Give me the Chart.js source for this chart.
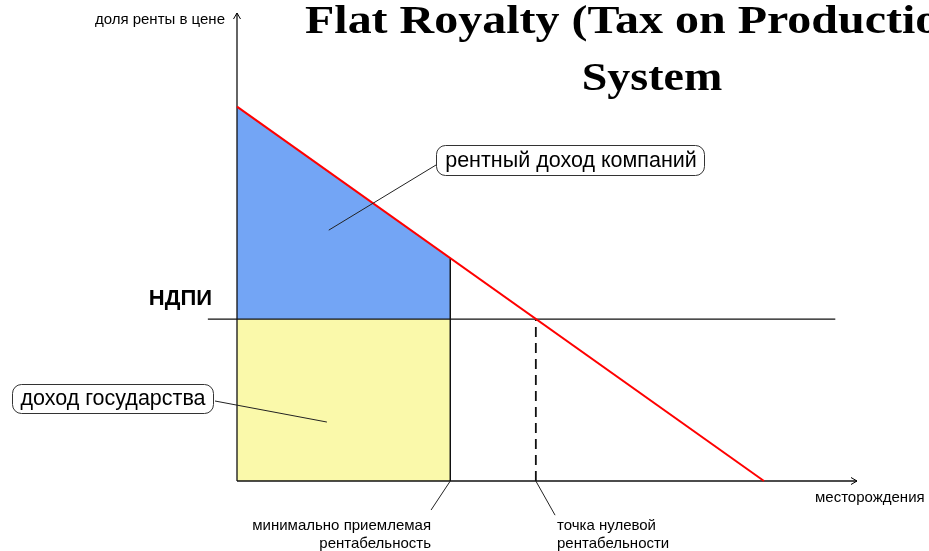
<!DOCTYPE html>
<html>
<head>
<meta charset="utf-8">
<script src="https://cdn.jsdelivr.net/npm/chart.js@4.4.1/dist/chart.umd.min.js"></script>
<style>
  html, body { margin: 0; padding: 0; background: #fff; }
  #wrap { width: 929px; height: 551px; position: relative; }
</style>
</head>
<body>
<div id="wrap"><canvas id="royaltyChart"></canvas></div>
<script>
// rent share line (price share vs. deposits)
const rentLineX = [0, 85];
const rentLineY = [80, 0];
// company rent income (blue) - top edge follows the rent line
const companyRentX = [0, 34.4];
const companyRentY = [80, 47.6];
// flat royalty level (НДПИ)
const ndpiLevel = 34.6;
const ndpiLineX = [-4.7, 96.5];
// state income (yellow)
const stateIncomeX = [0, 34.4];
// minimum acceptable profitability / zero profitability
const minProfitX = 34.4;
const minProfitTop = 47.6;
const zeroProfitX = 48.2;

const titleLines = ['Flat Royalty (Tax on Production)', 'System'];
const yAxisLabel = 'доля ренты в цене';
const xAxisLabel = 'месторождения';
const ndpiLabel = 'НДПИ';
const stateLabel = 'доход государства';
const companyLabel = 'рентный доход компаний';
const minProfitLabel = ['минимально приемлемая', 'рентабельность'];
const zeroProfitLabel = ['точка нулевой', 'рентабельности'];

const BLUE = 'rgb(115,165,245)';
const YELLOW = 'rgb(250,249,170)';
const RED = '#ff0000';
const SANS = '"Liberation Sans", Arial, sans-serif';

const pts = (xs, ys) => xs.map((x, i) => ({ x: x, y: ys[i] }));

function roundBox(c, x, y, w, h, r) {
    c.beginPath();
    c.moveTo(x + r, y);
    c.lineTo(x + w - r, y);
    c.arcTo(x + w, y, x + w, y + r, r);
    c.lineTo(x + w, y + h - r);
    c.arcTo(x + w, y + h, x + w - r, y + h, r);
    c.lineTo(x + r, y + h);
    c.arcTo(x, y + h, x, y + h - r, r);
    c.lineTo(x, y + r);
    c.arcTo(x, y, x + r, y, r);
    c.closePath();
    c.stroke();
}

function seg(c, x1, y1, x2, y2) {
    c.beginPath();
    c.moveTo(x1, y1);
    c.lineTo(x2, y2);
    c.stroke();
}

const annotations = {
    id: 'annotations',
    afterDatasetsDraw(chart) {
        const c = chart.ctx;
        const sx = chart.scales.x, sy = chart.scales.y;
        const px = v => sx.getPixelForValue(v);
        const py = v => sy.getPixelForValue(v);
        c.save();

        // axis arrows
        c.strokeStyle = '#000';
        c.lineWidth = 1;
        c.beginPath();
        c.moveTo(px(0) - 3.5, py(100) + 6);
        c.lineTo(px(0), py(100));
        c.lineTo(px(0) + 3.5, py(100) + 6);
        c.moveTo(px(100) - 6, py(0) - 3.5);
        c.lineTo(px(100), py(0));
        c.lineTo(px(100) - 6, py(0) + 3.5);
        c.stroke();

        // leader lines
        c.strokeStyle = '#222';
        c.lineWidth = 1;
        seg(c, px(minProfitX), py(0), px(31.3), py(-6.2));
        seg(c, px(zeroProfitX), py(0), px(51.3), py(-7.3));
        seg(c, 215, 401, px(14.5), py(12.6));
        seg(c, 436, 165, px(14.8), py(53.6));

        // callout boxes
        c.strokeStyle = '#333';
        roundBox(c, 12.5, 384.5, 201, 29, 9);
        roundBox(c, 436.5, 145.5, 268, 30, 9);

        c.fillStyle = '#000';
        c.textBaseline = 'middle';
        c.font = '21.5px ' + SANS;
        c.textAlign = 'center';
        c.fillText(stateLabel, 113, 399.5);
        c.fillText(companyLabel, 571, 161);

        c.font = '15px ' + SANS;
        c.textAlign = 'right';
        c.fillText(yAxisLabel, 225, 20);
        c.fillText(minProfitLabel[0], 431, 526);
        c.fillText(minProfitLabel[1], 431, 544);
        c.textAlign = 'left';
        c.fillText(xAxisLabel, 815, 498);
        c.fillText(zeroProfitLabel[0], 557, 526);
        c.fillText(zeroProfitLabel[1], 557, 544);

        c.font = 'bold 22px ' + SANS;
        c.textAlign = 'right';
        c.fillText(ndpiLabel, 212, 299);

        // title (stretched serif, runs off the right edge)
        c.font = 'bold 39px "Liberation Serif", "Times New Roman", serif';
        c.textBaseline = 'alphabetic';
        c.save();
        c.translate(305, 33);
        c.scale(1.23, 1);
        c.textAlign = 'left';
        c.fillText(titleLines[0], 0, 0);
        c.restore();
        c.save();
        c.translate(652, 90);
        c.scale(1.18, 1);
        c.textAlign = 'center';
        c.fillText(titleLines[1], 0, 0);
        c.restore();

        c.restore();
    }
};

const chart = new Chart(document.getElementById('royaltyChart'), {
    type: 'line',
    data: {
        datasets: [
            {
                label: 'state',
                data: pts(stateIncomeX, [ndpiLevel, ndpiLevel]),
                backgroundColor: YELLOW,
                borderWidth: 0,
                fill: 'origin',
                order: 10
            },
            {
                label: 'company',
                data: pts(companyRentX, companyRentY),
                backgroundColor: BLUE,
                borderWidth: 0,
                fill: { value: ndpiLevel },
                order: 9
            },
            {
                label: 'ndpi',
                data: pts(ndpiLineX, [ndpiLevel, ndpiLevel]),
                borderColor: '#111',
                borderWidth: 1.2,
                clip: false,
                order: 5
            },
            {
                label: 'minProfit',
                data: pts([minProfitX, minProfitX], [0, minProfitTop]),
                borderColor: '#111',
                borderWidth: 1.5,
                order: 5
            },
            {
                label: 'zeroProfit',
                data: pts([zeroProfitX, zeroProfitX], [0, ndpiLevel]),
                borderColor: '#111',
                borderWidth: 1.8,
                borderDash: [10, 6],
                order: 5
            },
            {
                label: 'yAxis',
                data: pts([0, 0], [0, 100]),
                borderColor: '#111',
                borderWidth: 1.3,
                clip: false,
                order: 4
            },
            {
                label: 'xAxis',
                data: pts([0, 100], [0, 0]),
                borderColor: '#111',
                borderWidth: 1.3,
                clip: false,
                order: 4
            },
            {
                label: 'rent',
                data: pts(rentLineX, rentLineY),
                borderColor: RED,
                borderWidth: 2,
                clip: false,
                order: 1
            }
        ]
    },
    options: {
        responsive: true,
        maintainAspectRatio: false,
        animation: false,
        events: [],
        elements: { point: { radius: 0 }, line: { tension: 0 } },
        layout: { padding: { left: 237, right: 72, top: 13, bottom: 70 } },
        scales: {
            x: { type: 'linear', min: 0, max: 100, display: false },
            y: { type: 'linear', min: 0, max: 100, display: false }
        },
        plugins: { legend: { display: false }, tooltip: { enabled: false }, title: { display: false } }
    },
    plugins: [annotations]
});
</script>
</body>
</html>
